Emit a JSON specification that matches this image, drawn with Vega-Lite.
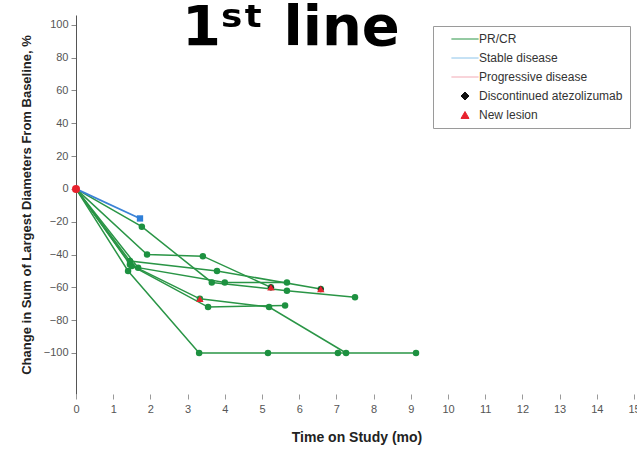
{
  "$schema": "https://vega.github.io/schema/vega-lite/v6.json",
  "width": 561,
  "height": 379,
  "autosize": "none",
  "padding": {"left": 76, "top": 15, "right": 0, "bottom": 57},
  "background": "white",
  "title": {
    "text": "1ˢᵗ line",
    "font": "DejaVu Sans",
    "fontSize": 56,
    "fontWeight": "bold",
    "color": "#000000",
    "orient": "none",
    "anchor": "start",
    "frame": "group",
    "dx": 106,
    "dy": 30,
    "baseline": "alphabetic"
  },
  "config": {
    "view": {"stroke": null},
    "font": "Liberation Sans",
    "axis": {"grid": false}
  },
  "datasets": {
    "visits": [
      {"patient": 1, "response": "Stable disease", "month": 0, "change": 0, "event": "none"},
      {"patient": 1, "response": "Stable disease", "month": 1.72, "change": -18, "event": "none"},

      {"patient": 2, "response": "PR/CR", "month": 0, "change": 0, "event": "none"},
      {"patient": 2, "response": "PR/CR", "month": 1.77, "change": -23, "event": "none"},
      {"patient": 2, "response": "PR/CR", "month": 3.65, "change": -57, "event": "none"},
      {"patient": 2, "response": "PR/CR", "month": 5.67, "change": -62, "event": "none"},
      {"patient": 2, "response": "PR/CR", "month": 7.5, "change": -66, "event": "none"},

      {"patient": 3, "response": "PR/CR", "month": 0, "change": 0, "event": "none"},
      {"patient": 3, "response": "PR/CR", "month": 1.91, "change": -40, "event": "none"},
      {"patient": 3, "response": "PR/CR", "month": 3.41, "change": -41, "event": "none"},
      {"patient": 3, "response": "PR/CR", "month": 5.24, "change": -60, "event": "new lesion, discontinued"},

      {"patient": 4, "response": "PR/CR", "month": 0, "change": 0, "event": "none"},
      {"patient": 4, "response": "PR/CR", "month": 1.45, "change": -44, "event": "none"},
      {"patient": 4, "response": "PR/CR", "month": 3.79, "change": -50, "event": "none"},
      {"patient": 4, "response": "PR/CR", "month": 6.58, "change": -61, "event": "new lesion, discontinued"},

      {"patient": 5, "response": "PR/CR", "month": 0, "change": 0, "event": "none"},
      {"patient": 5, "response": "PR/CR", "month": 1.67, "change": -48, "event": "none"},
      {"patient": 5, "response": "PR/CR", "month": 4.0, "change": -57, "event": "none"},
      {"patient": 5, "response": "PR/CR", "month": 5.67, "change": -57, "event": "none"},

      {"patient": 6, "response": "PR/CR", "month": 0, "change": 0, "event": "none"},
      {"patient": 6, "response": "PR/CR", "month": 1.45, "change": -46, "event": "none"},
      {"patient": 6, "response": "PR/CR", "month": 3.33, "change": -67, "event": "new lesion"},
      {"patient": 6, "response": "PR/CR", "month": 5.19, "change": -72, "event": "none"},
      {"patient": 6, "response": "PR/CR", "month": 7.26, "change": -100, "event": "none"},

      {"patient": 7, "response": "PR/CR", "month": 0, "change": 0, "event": "none"},
      {"patient": 7, "response": "PR/CR", "month": 1.4, "change": -50, "event": "none"},
      {"patient": 7, "response": "PR/CR", "month": 3.31, "change": -100, "event": "none"},
      {"patient": 7, "response": "PR/CR", "month": 5.16, "change": -100, "event": "none"},
      {"patient": 7, "response": "PR/CR", "month": 7.04, "change": -100, "event": "none"},
      {"patient": 7, "response": "PR/CR", "month": 9.14, "change": -100, "event": "none"},

      {"patient": 8, "response": "PR/CR", "month": 0, "change": 0, "event": "none"},
      {"patient": 8, "response": "PR/CR", "month": 1.5, "change": -47, "event": "none"},
      {"patient": 8, "response": "PR/CR", "month": 3.55, "change": -72, "event": "none"},
      {"patient": 8, "response": "PR/CR", "month": 5.62, "change": -71, "event": "none"}
    ],
    "legendKeys": [
      {"key": "PR/CR", "month": 0, "change": 0},
      {"key": "Stable disease", "month": 0, "change": 0},
      {"key": "Progressive disease", "month": 0, "change": 0},
      {"key": "Discontinued atezolizumab", "month": 0, "change": 0},
      {"key": "New lesion", "month": 0, "change": 0}
    ],
    "baseline": [{"change": 0}]
  },
  "encoding": {
    "x": {
      "field": "month", "type": "quantitative",
      "scale": {"domain": [0, 15.08], "nice": false, "zero": false},
      "axis": {
        "values": [0, 1, 2, 3, 4, 5, 6, 7, 8, 9, 10, 11, 12, 13, 14, 15],
        "domain": false,
        "tickSize": 5,
        "tickColor": "#9a9a9a",
        "labelFontSize": 11,
        "labelColor": "#555555",
        "labelPadding": 4,
        "labelOverlap": false,
        "labelFlush": false,
        "labelBound": false,
        "title": "Time on Study (mo)",
        "titleFontSize": 14,
        "titleFontWeight": "bold",
        "titleColor": "#222222",
        "titlePadding": 16
      }
    },
    "y": {
      "field": "change", "type": "quantitative",
      "scale": {"domain": [-125, 106], "nice": false, "zero": false},
      "axis": {
        "values": [-100, -80, -60, -40, -20, 0, 20, 40, 60, 80, 100],
        "domainColor": "#555555",
        "tickSize": 5,
        "tickColor": "#8a8a8a",
        "labelFontSize": 11,
        "labelColor": "#555555",
        "labelPadding": 3,
        "labelOverlap": false,
        "labelFlush": false,
        "labelBound": false,
        "title": "Change in Sum of Largest Diameters From Baseline, %",
        "titleFontSize": 13,
        "titleFontWeight": "bold",
        "titleColor": "#222222",
        "titlePadding": 10
      }
    }
  },
  "layer": [
    {
      "data": {"name": "baseline"},
      "mark": {"type": "rule", "color": "#cfcfcf", "strokeWidth": 1},
      "encoding": {
        "x": {"datum": 0, "type": "quantitative"},
        "x2": {"datum": 15.08}
      }
    },
    {
      "data": {"name": "visits"},
      "transform": [{"filter": "datum.response === 'PR/CR'"}],
      "mark": {"type": "line", "color": "#2a9546", "strokeWidth": 1.5},
      "encoding": {
        "detail": {"field": "patient", "type": "nominal"},
        "order": {"field": "month", "type": "quantitative"}
      }
    },
    {
      "data": {"name": "visits"},
      "transform": [{"filter": "datum.response === 'Stable disease'"}],
      "mark": {"type": "line", "color": "#3b83d6", "strokeWidth": 1.8},
      "encoding": {
        "detail": {"field": "patient", "type": "nominal"}
      }
    },
    {
      "data": {"name": "visits"},
      "transform": [{"filter": "datum.response === 'PR/CR' && datum.month > 0"}],
      "mark": {"type": "point", "shape": "circle", "filled": true, "color": "#1d9140", "opacity": 1, "size": 42}
    },
    {
      "data": {"name": "visits"},
      "transform": [{"filter": "datum.response === 'Stable disease' && datum.month > 0"}],
      "mark": {"type": "point", "shape": "square", "filled": true, "color": "#2f7fd8", "opacity": 1, "size": 40}
    },
    {
      "data": {"name": "visits"},
      "transform": [{"filter": "indexof(datum.event, 'discontinued') >= 0"}],
      "mark": {"type": "point", "shape": "diamond", "filled": true, "color": "#222222", "opacity": 1, "size": 44}
    },
    {
      "data": {"name": "visits"},
      "transform": [{"filter": "indexof(datum.event, 'new lesion') >= 0"}],
      "mark": {"type": "point", "shape": "triangle-up", "filled": true, "color": "#e8222e", "opacity": 1, "size": 55}
    },
    {
      "data": {"name": "visits"},
      "transform": [{"filter": "datum.month === 0 && datum.patient === 2"}],
      "mark": {"type": "point", "shape": "circle", "filled": true, "color": "#e8222e", "opacity": 1, "size": 64}
    },
    {
      "data": {"name": "legendKeys"},
      "mark": {"type": "point", "filled": true, "opacity": 0},
      "encoding": {
        "color": {
          "field": "key", "type": "nominal",
          "scale": {
            "domain": ["PR/CR", "Stable disease", "Progressive disease", "Discontinued atezolizumab", "New lesion"],
            "range": ["#2a9546", "#8cc4ea", "#f2a9b4", "#111111", "#e8222e"]
          },
          "legend": {
            "title": null,
            "orient": "none",
            "legendX": 357,
            "legendY": 11,
            "padding": 7,
            "strokeColor": "#9a9a9a",
            "fillColor": "#ffffff",
            "symbolOpacity": 1,
            "symbolSize": 64,
            "symbolOffset": 19,
            "symbolStrokeWidth": 1,
            "labelFontSize": 12,
            "labelColor": "#333333",
            "labelOffset": 8,
            "labelLimit": 300,
            "rowPadding": 7,
            "encode": {
              "symbols": {
                "update": {
                  "stroke": {"scale": "color", "field": "value"},
                  "fill": {"scale": "color", "field": "value"},
                  "opacity": {"value": 1}
                }
              }
            }
          }
        },
        "shape": {
          "field": "key", "type": "nominal",
          "scale": {
            "domain": ["PR/CR", "Stable disease", "Progressive disease", "Discontinued atezolizumab", "New lesion"],
            "range": ["M-3.4,0H3.4", "M-3.4,0H3.4", "M-3.4,0H3.4", "diamond", "triangle-up"]
          },
          "legend": {"title": null}
        }
      }
    }
  ]
}
